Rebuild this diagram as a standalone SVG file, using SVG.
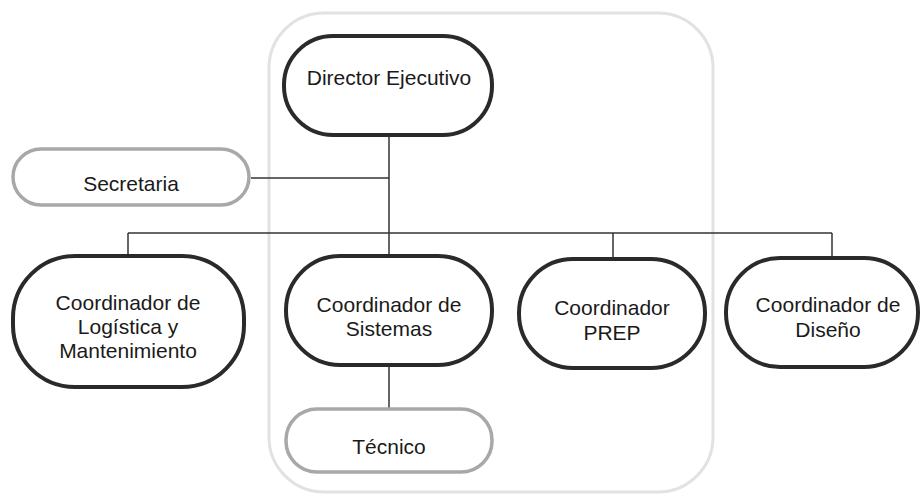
<svg xmlns="http://www.w3.org/2000/svg" width="922" height="498" viewBox="0 0 922 498">
<style>
text{font-family:"Liberation Sans",Arial,sans-serif;font-size:21px;fill:#1a1a1a;text-anchor:middle}
.main{fill:#fff;stroke:#2a2a2a;stroke-width:4}
.staff{fill:#fff;stroke:#a8a8a8;stroke-width:3.5}
.conn line{stroke:#333;stroke-width:1.5}
</style>
<rect id="container" x="269" y="13" width="444" height="479" rx="55" fill="none" stroke="#e2e2e2" stroke-width="3"/>
<g class="conn" id="connectors">
<line x1="389" y1="135" x2="389" y2="256"/>
<line x1="251" y1="178" x2="389" y2="178"/>
<line x1="128" y1="233" x2="832" y2="233"/>
<line x1="128" y1="233" x2="128" y2="255"/>
<line x1="613" y1="233" x2="613" y2="259"/>
<line x1="832" y1="233" x2="832" y2="258"/>
<line x1="389" y1="365" x2="389" y2="409"/>
</g>
<g id="director">
<rect class="main" x="284" y="36" width="208" height="99" rx="49"/>
<text x="389" y="85">Director Ejecutivo</text>
</g>
<g id="secretaria">
<rect class="staff" x="13" y="149" width="236" height="56" rx="28"/>
<text x="131" y="191">Secretaria</text>
</g>
<g id="logistica">
<rect class="main" x="13" y="256" width="231" height="131" rx="62"/>
<text x="128" y="310">Coordinador de</text>
<text x="128" y="334">Logística y</text>
<text x="128" y="358">Mantenimiento</text>
</g>
<g id="sistemas">
<rect class="main" x="286" y="256" width="206" height="109" rx="54"/>
<text x="389" y="312">Coordinador de</text>
<text x="389" y="336">Sistemas</text>
</g>
<g id="prep">
<rect class="main" x="519" y="259" width="186" height="109" rx="54"/>
<text x="612" y="315">Coordinador</text>
<text x="612" y="340">PREP</text>
</g>
<g id="diseno">
<rect class="main" x="726" y="258" width="192" height="109" rx="54"/>
<text x="828" y="312">Coordinador de</text>
<text x="828" y="337">Diseño</text>
</g>
<g id="tecnico">
<rect class="staff" x="286" y="409" width="206" height="63" rx="31"/>
<text x="389" y="454">Técnico</text>
</g>
</svg>
